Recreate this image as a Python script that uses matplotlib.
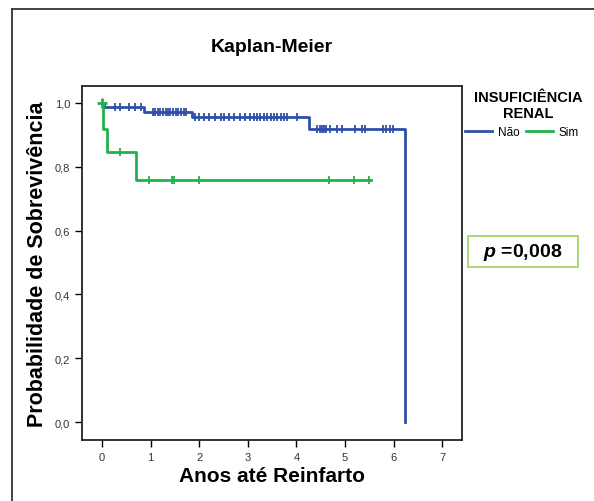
import matplotlib
matplotlib.use("Agg")
import matplotlib.pyplot as plt
from matplotlib.patches import Rectangle
from matplotlib.lines import Line2D

plt.rcParams['font.family'] = ['Liberation Sans', 'DejaVu Sans']
plt.rcParams['mathtext.fontset'] = 'custom'
plt.rcParams['mathtext.it'] = 'Liberation Sans:bold:italic'

# curva "Não" (sem insuficiência renal)
nao_tempos = [0.0, 0.05, 0.86, 1.85, 4.25, 6.24]
nao_surv = [1.0, 0.987, 0.971, 0.955, 0.918, 0.0]
nao_cens = [0.27, 0.38, 0.55, 0.69, 0.81,
            1.05, 1.10, 1.15, 1.20, 1.26, 1.31, 1.36, 1.41, 1.47, 1.52, 1.57, 1.62, 1.69, 1.74,
            1.92, 1.99, 2.09, 2.20, 2.33, 2.44, 2.51, 2.61, 2.71, 2.85, 2.95, 3.05, 3.12, 3.19,
            3.26, 3.33, 3.40, 3.47, 3.54, 3.61, 3.68, 3.75, 3.81, 4.02,
            4.42, 4.48, 4.52, 4.57, 4.62, 4.69, 4.83, 4.93, 5.20, 5.34, 5.41, 5.78, 5.85, 5.92, 5.99]
# curva "Sim"
sim_tempos = [0.0, 0.02, 0.10, 0.71, 5.53]
sim_surv = [1.0, 0.918, 0.845, 0.76, 0.76]
sim_cens = [0.38, 0.96, 1.44, 1.49, 2.0, 4.68, 5.19, 5.49]

cor_nao = '#2F4FA8'
cor_sim = '#22B14C'

xticks = [0, 1, 2, 3, 4, 5, 6, 7]
yticks = [0.0, 0.2, 0.4, 0.6, 0.8, 1.0]
ytick_labels = ['0,0', '0,2', '0,4', '0,6', '0,8', '1,0']


def surv_em(t, tempos, surv):
    s = surv[0]
    for ti, si in zip(tempos, surv):
        if ti <= t:
            s = si
    return s


fig = plt.figure(figsize=(5.94, 5.02), dpi=100)
ax = fig.add_axes([0.138, 0.1215, 0.64, 0.7052])

ax.step(nao_tempos, nao_surv, where='post', color=cor_nao, lw=2)
ax.step(sim_tempos, sim_surv, where='post', color=cor_sim, lw=2)

# marcas de censura
ax.plot(nao_cens, [surv_em(t, nao_tempos, nao_surv) for t in nao_cens],
        ls='none', marker='|', ms=5.5, mew=1.3, color=cor_nao)
ax.plot(sim_cens, [surv_em(t, sim_tempos, sim_surv) for t in sim_cens],
        ls='none', marker='|', ms=5.5, mew=1.3, color=cor_sim)
ax.plot([0.0], [1.0], ls='none', marker='+', ms=7, mew=2, color=cor_sim)

ax.set_xlim(-0.41, 7.41)
ax.set_ylim(-0.056, 1.053)
ax.set_xticks(xticks)
ax.set_xticklabels([str(x) for x in xticks])
ax.set_yticks(yticks)
ax.set_yticklabels(ytick_labels)
ax.tick_params(direction='out', length=5, width=1, labelsize=8, labelcolor='#333333')
for sp in ax.spines.values():
    sp.set_linewidth(1.3)
    sp.set_color('#222222')

ax.set_title('Kaplan-Meier', fontsize=14, fontweight='bold', pad=25)
ax.set_xlabel('Anos até Reinfarto', fontsize=15, fontweight='bold', labelpad=3)
ax.set_ylabel('Probabilidade de Sobrevivência', fontsize=15.5, fontweight='bold', labelpad=5)

# legenda
fig.text(528 / 594, 1 - 106 / 502, 'INSUFICIÊNCIA\nRENAL', ha='center', va='center',
         fontsize=10.5, fontweight='bold', linespacing=1.25)
handles = [Line2D([], [], color=cor_nao, lw=2), Line2D([], [], color=cor_sim, lw=2)]
fig.legend(handles, ['Não', 'Sim'], ncol=2, frameon=False,
           fontsize=8.5, handlelength=2.3, handletextpad=0.5, columnspacing=0.5,
           loc='center left', bbox_to_anchor=(465 / 594, 1 - 133 / 502), borderaxespad=0,
           borderpad=0)

# caixa do p-valor
fig.patches.append(Rectangle((0.788, 0.466), 0.185, 0.062, transform=fig.transFigure,
                             fill=False, ec='#A8D468', lw=1.3))
fig.text(0.8805, 0.497, '$p$ =0,008', ha='center', va='center', fontsize=14, fontweight='bold')

# moldura externa
fig.add_artist(Line2D([12 / 594, 12 / 594], [0, 1 - 10 / 502], color='#333333', lw=1.3))
fig.add_artist(Line2D([12 / 594, 1], [1 - 10 / 502, 1 - 10 / 502], color='#333333', lw=1.3))

fig.savefig('out.png', dpi=100)
